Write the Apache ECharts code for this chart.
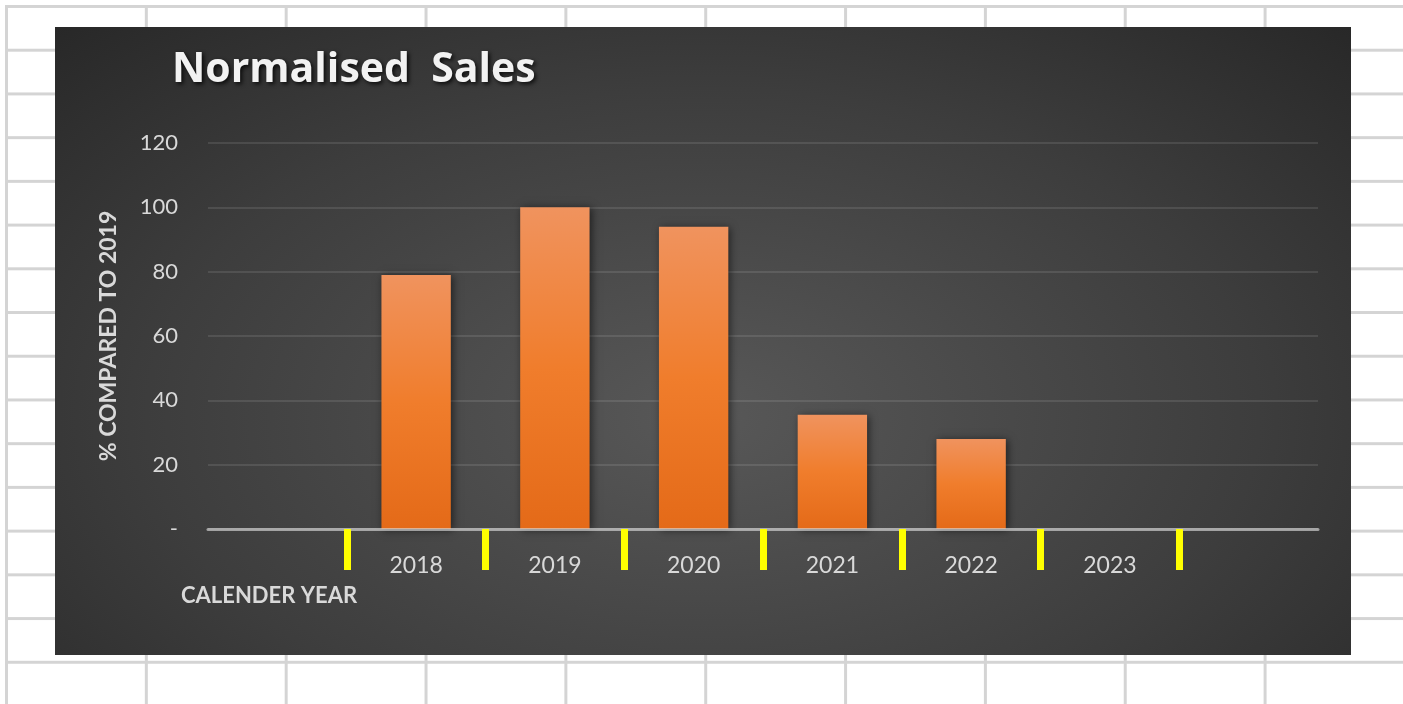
<!DOCTYPE html>
<html>
<head>
<meta charset="utf-8">
<script src="https://cdn.jsdelivr.net/npm/echarts@6/dist/echarts.min.js"></script>
<style>
  html, body { margin: 0; padding: 0; width: 1403px; height: 704px; overflow: hidden; background: #fff; }
  /* spreadsheet cells behind the chart */
  .sheet {
    position: absolute; left: 5px; top: 5px; width: 1398px; height: 699px;
    background-image:
      linear-gradient(to right, #d4d4d4 3px, transparent 3px),
      linear-gradient(to bottom, #d4d4d4 3px, transparent 3px);
    background-size: 139.85px 43.73px;
  }
  #main {
    position: absolute; left: 55px; top: 27px; width: 1296px; height: 628px;
    background: radial-gradient(ellipse 78% 95% at 50% 62%, #585858 0%, #3d3d3d 55%, #232323 100%);
  }
</style>
</head>
<body>
<div class="sheet"></div>
<div id="main"></div>
<script>
// data
var years = ['', '2018', '2019', '2020', '2021', '2022', '2023', ''];
var sales = [null, 79, 100, 94, 35.5, 28, null, null];
var yTicks = [0, 20, 40, 60, 80, 100, 120];
// one entry per category edge, only used to place the yellow marks
var edges = ['', '', '', '', '', '', '', '', ''];

var myChart = echarts.init(document.getElementById('main'));

var option = {
    backgroundColor: 'transparent',
    title: {
        text: 'Normalised  Sales',
        left: 112,
        top: 18,
        textStyle: {
            color: '#f2f2f2',
            fontFamily: 'Open Sans',
            fontWeight: 'bold',
            fontSize: 41,
            textShadowColor: 'rgba(0,0,0,0.8)',
            textShadowBlur: 4,
            textShadowOffsetX: 2,
            textShadowOffsetY: 2
        }
    },
    graphic: [{
        type: 'text',
        left: 126,
        top: 558,
        style: {
            text: 'CALENDER YEAR',
            fill: '#d9d9d9',
            font: 'bold 22px Lato'
        }
    }],
    grid: {
        left: 153,
        right: 33,
        top: 116,
        bottom: 126
    },
    xAxis: [{
        type: 'category',
        data: years,
        boundaryGap: true,
        z: 5,
        axisLine: { lineStyle: { color: 'rgba(217,217,217,0.65)', width: 3 } },
        axisTick: { show: false },
        axisLabel: { color: '#d9d9d9', fontFamily: 'Lato', fontSize: 23, margin: 25 }
    }, {
        type: 'category',
        data: edges,
        position: 'bottom',
        boundaryGap: false,
        z: 6,
        axisLine: { show: false },
        axisLabel: { show: false },
        axisTick: {
            show: true,
            length: 41,
            interval: function (index) { return index > 0 && index < edges.length - 1; },
            lineStyle: { color: '#ffff00', width: 7 }
        }
    }],
    yAxis: {
        type: 'value',
        min: yTicks[0],
        max: yTicks[yTicks.length - 1],
        interval: yTicks[1] - yTicks[0],
        name: '% COMPARED TO 2019',
        nameLocation: 'middle',
        nameRotate: 90,
        nameGap: 88,
        nameTextStyle: { color: '#d9d9d9', fontFamily: 'Lato', fontWeight: 'bold', fontSize: 23 },
        axisLine: { show: false },
        axisTick: { show: false },
        axisLabel: {
            color: '#d9d9d9', fontFamily: 'Lato', fontSize: 22, margin: 30,
            formatter: function (v) { return v === 0 ? '-' : v; }
        },
        splitLine: { lineStyle: { color: 'rgba(255,255,255,0.1)', width: 2 } }
    },
    series: [{
        type: 'bar',
        data: sales,
        xAxisIndex: 0,
        barWidth: '50%',
        itemStyle: {
            color: new echarts.graphic.LinearGradient(0, 0, 0, 1, [
                { offset: 0, color: '#f0935e' },
                { offset: 0.5, color: '#f07d2c' },
                { offset: 1, color: '#e46a18' }
            ]),
            shadowColor: 'rgba(0,0,0,0.55)',
            shadowBlur: 8,
            shadowOffsetX: 2,
            shadowOffsetY: 1
        },
        silent: true
    }],
    animation: false
};

myChart.setOption(option);
</script>
</body>
</html>
